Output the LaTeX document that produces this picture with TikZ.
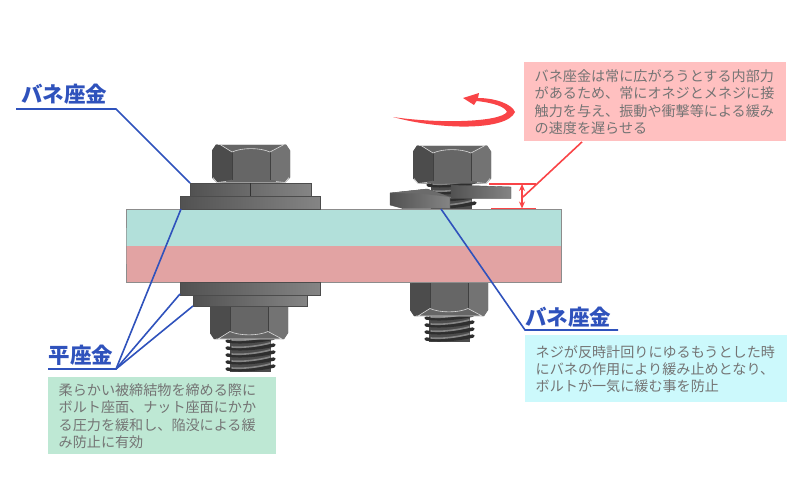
\documentclass[tikz,border=0pt]{standalone}
\usepackage{fontspec}
\newfontfamily\jpfont{Noto Sans CJK JP}
\usetikzlibrary{arrows.meta}
\definecolor{leaderblue}{HTML}{2F52BC}
\definecolor{dimred}{HTML}{F94447}
\definecolor{notegray}{HTML}{747474}
\definecolor{plateteal}{HTML}{B2E0DA}
\definecolor{platepink}{HTML}{E2A3A3}
\definecolor{boxred}{HTML}{FFC0C0}
\definecolor{boxgreen}{HTML}{BEE8D4}
\definecolor{boxcyan}{HTML}{CCF9FC}

\begin{document}
\begin{tikzpicture}[x=1pt, y=-1pt, font=\jpfont,
  >={Stealth[length=7pt, width=6pt]},
  metal/.style={draw=black!70, line width=0.4pt, left color=black!68, right color=black!48},
  leader/.style={draw=leaderblue, line width=1.6pt},
  dimline/.style={draw=dimred, line width=1.6pt},
  title/.style={font=\jpfont\bfseries\fontsize{21.5}{24}\selectfont, text=leaderblue, inner sep=0pt},
  note/.style={anchor=north west, align=left, inner xsep=10.5pt, inner ysep=0pt,
    font=\jpfont\fontsize{14.1}{17.3}\selectfont, text=notegray},
  hexhead/.pic={
    \fill[black!60] (4,0) -- (74,0) -- (78,6) -- (78,33) -- (73,38) -- (5,38) -- (0,33) -- (0,6) -- cycle;
    \fill[black!70] (4,0) -- (8,0) -- (20,7.5) -- (20,35) -- (5,38) -- (0,33) -- (0,6) -- cycle;
    \fill[black!55] (58,7.5) -- (72,0) -- (74,0) -- (78,6) -- (78,33) -- (73,38) -- (58,35) -- cycle;
    \draw[black!75, line width=0.4pt] (20,7.5) -- (20,35) (58,7.5) -- (58,35);
    \draw[black!15, line width=0.6pt] (6,0) -- (72,0) (8,0) -- (20,7.5) .. controls (30,3) and (48,3) .. (58,7.5) -- (72,0);
    \draw[black!15, line width=0.6pt] (1,33) -- (5,38) -- (14,37) (64,37) -- (73,38) -- (77,33);
  },
  thread/.pic={
    \fill[black!70] (3,0) rectangle (44,7*\threadturns);
    \foreach \i in {1,...,\threadturns}{
      \draw[black!82, line width=3.4pt, line cap=round] (0,7*\i-3) .. controls (14,7*\i-1) and (34,7*\i-3) .. (47,7*\i-6);
      \draw[black!48, line width=1.6pt, line cap=round] (5,7*\i-4) .. controls (16,7*\i-3) and (32,7*\i-5) .. (43,7*\i-8);
    }
  }]
  \useasboundingbox (0,0) rectangle (800,498);

  % right nut sits behind the plates
  \pic at (426,314) {code={\def\threadturns{4}\pic {thread};}};
  \pic[yscale=-1] at (410,316) {hexhead};

  % plates
  \fill[plateteal] (126,209) rectangle (561,246);
  \fill[platepink] (126,246) rectangle (561,282.5);
  \draw[black!45, line width=0.5pt] (126,246) -- (126,209) -- (561,209) -- (561,282.5) -- (126,282.5) -- cycle;

  % left bolt
  \pic at (227,337) {code={\def\threadturns{5}\pic {thread};}};
  \pic at (212,144.5) {hexhead};
  \path[metal] (190,183) rectangle (311,196);
  \draw[black!80, line width=0.5pt] (250,183) -- (250,196);
  \path[metal] (180,196) rectangle (320,209);
  \pic[yscale=-1] at (210,339) {hexhead};
  \path[metal] (193,295) rectangle (307,306);
  \path[metal] (180,282.5) rectangle (320,295);

  % right bolt
  \pic at (428,181) {code={\def\threadturns{4}\pic {thread};}};
  \pic at (413,145.5) {hexhead};
  \path[metal] (390,193) -- (427,189) -- (450,197) -- (450,208.5) -- (403,208.5) -- (390,205) -- cycle;
  \fill[black!58] (390,193) -- (427,189) -- (450,197) -- (420,193.5) -- cycle;
  \path[metal] (451,185) -- (511,187) -- (511,198.5) -- (451,198.5) -- cycle;

  % rotation arrow
  \fill[dimred] (393,117) .. controls (440,130) and (507,131) .. (515,112)
    .. controls (512,104) and (495,98) .. (478,98) -- (479,93) -- (463,98) -- (474,105) -- (476.5,101)
    .. controls (495,103) and (505,107) .. (507,112)
    .. controls (500,122) and (440,124) .. (393,117) -- cycle;

  % gap dimension
  \coordinate (gapT) at (522,184);
  \coordinate (gapB) at (522,208.5);
  \draw[dimline] (489,184) -- (gapT -| 536,0);
  \draw[dimline] (491,208.5) -- (gapB -| 536,0);
  \draw[dimred, line width=1.2pt, <->] (gapT) -- (gapB);

  % notes
  \fill[boxred] (524,62) rectangle (786,141);
  \node[note, text width=241pt, minimum height=79pt] (noteSpring) at (524,62.5)
    {バネ座金は常に広がろうとする内部力\\があるため、常にオネジとメネジに接\\触力を与え、振動や衝撃等による緩み\\の速度を遅らせる};
  \fill[boxgreen] (48,377) rectangle (276,454);
  \node[note, text width=207pt, minimum height=77pt] (noteFlat) at (48,377.5)
    {柔らかい被締結物を締める際に\\ボルト座面、ナット座面にかか\\る圧力を緩和し、陥没による緩\\み防止に有効};
  \fill[boxcyan] (525,335) rectangle (787,402);
  \node[note, text width=241pt, minimum height=67pt] (noteLoose) at (525,335.5)
    {ネジが反時計回りにゆるもうとした時\\にバネの作用により緩み止めとなり、\\ボルトが一気に緩む事を防止};

  % titles
  \node[title] (springA) at (64,94) {バネ座金};
  \node[title] (flat) at (81,355) {平座金};
  \node[title] (springB) at (568,317) {バネ座金};

  % leaders
  \coordinate (kneeA) at (116,109);
  \coordinate (kneeF) at (116,369);
  \coordinate (kneeB) at (525,330);
  \coordinate (washerA) at (190,183);
  \coordinate (washerF1) at (181,209);
  \coordinate (washerF2) at (180,294);
  \coordinate (washerF3) at (193,306);
  \coordinate (washerB) at (441,209);
  \coordinate (gapL) at (523,197);
  \draw[leader] (16,109) -- (kneeA) -- (washerA);
  \draw[leader] (48,369) -- (kneeF) -- (washerF1);
  \draw[leader] (kneeF) -- (washerF2);
  \draw[leader] (kneeF) -- (washerF3);
  \draw[leader] (618,330) -- (kneeB) -- (washerB);
  \draw[dimline] (noteSpring.south -| 582,0) -- (gapL);
\end{tikzpicture}
\end{document}
